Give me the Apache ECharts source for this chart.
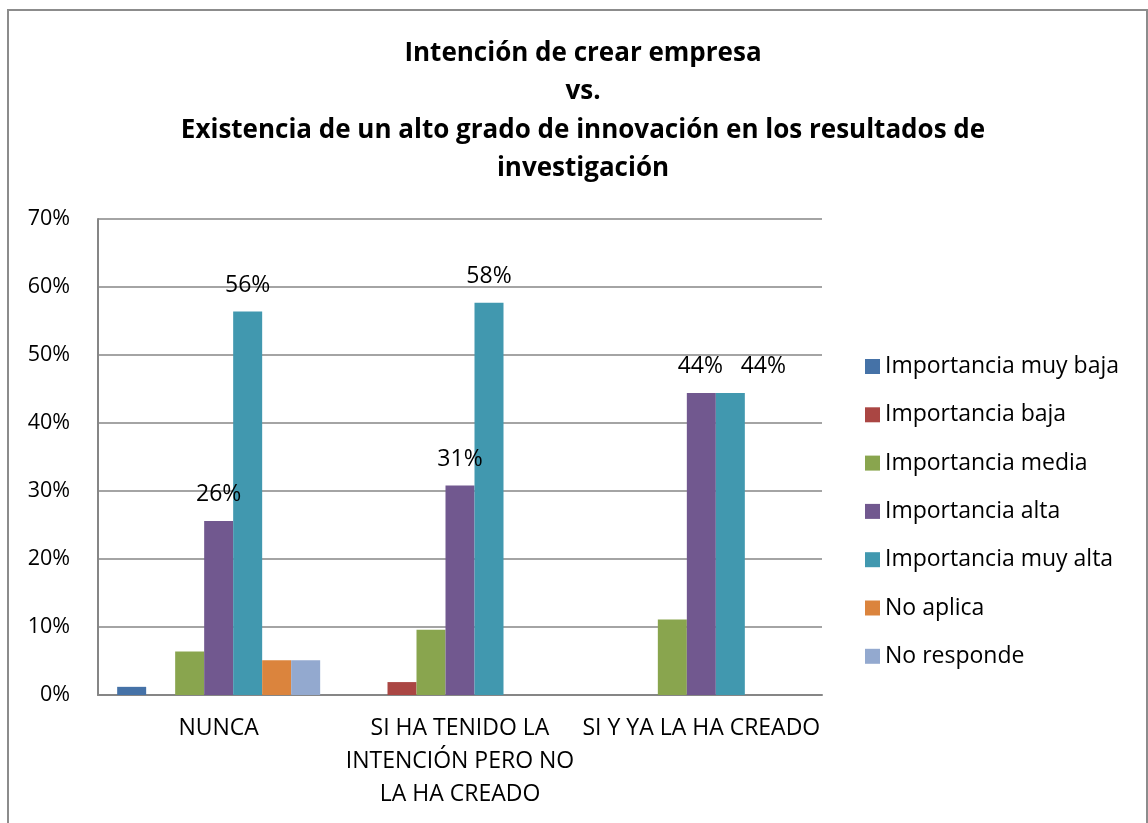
<!DOCTYPE html>
<html>
<head>
<meta charset="utf-8">
<script src="https://cdn.jsdelivr.net/npm/echarts@6/dist/echarts.min.js"></script>
<style>
  html, body { margin: 0; padding: 0; background: #fff; }
  #chart { width: 1148px; height: 823px; }
</style>
</head>
<body>
<div id="chart"></div>
<script>
// datos (en %)
var categorias = ["NUNCA", "SI HA TENIDO LA\nINTENCIÓN PERO NO\nLA HA CREADO", "SI Y YA LA HA CREADO"];
var series_nombres = ["Importancia muy baja", "Importancia baja", "Importancia media", "Importancia alta", "Importancia muy alta", "No aplica", "No responde"];
var muyBaja = [1.2, 0, 0];
var baja = [0, 1.9, 0];
var media = [6.4, 9.6, 11.1];
var alta = [25.6, 30.8, 44.4];
var muyAlta = [56.4, 57.7, 44.4];
var noAplica = [5.1, 0, 0];
var noResponde = [5.1, 0, 0];
var yTicks = [0, 10, 20, 30, 40, 50, 60, 70];

var datos = [muyBaja, baja, media, alta, muyAlta, noAplica, noResponde];
var colores = ["#4572A7", "#AA4643", "#89A54E", "#71588F", "#4198AF", "#DB843D", "#93A9CF"];
var conEtiqueta = [false, false, false, true, true, false, false];
var fuente = "'Open Sans', 'Noto Sans', sans-serif";

var chart = echarts.init(document.getElementById("chart"));

var series = [];
for (var i = 0; i < datos.length; i++) {
  var items = datos[i].map(function (v, j) {
    var it = { value: v };
    // en el ultimo grupo las dos etiquetas de 44% se separan como en Excel
    if (j === 2 && i === 3) it.label = { offset: [-1, 0] };
    if (j === 2 && i === 4) it.label = { offset: [33, 0] };
    return it;
  });
  series.push({
    name: series_nombres[i],
    type: "bar",
    data: items,
    barWidth: 29,
    barGap: "0%",
    itemStyle: { color: colores[i] },
    label: {
      show: conEtiqueta[i],
      position: "top",
      distance: 15,
      fontFamily: fuente,
      fontSize: 23,
      color: "#000",
      formatter: function (p) { return Math.round(p.value) + "%"; }
    }
  });
}

var option = {
  animation: false,
  textStyle: { fontFamily: fuente },
  title: {
    text: "Intención de crear empresa\nvs.\nExistencia de un alto grado de innovación en los resultados de\ninvestigación",
    left: 578,
    top: 29,
    textAlign: "center",
    textStyle: {
      fontFamily: fuente,
      fontSize: 26,
      fontWeight: "bold",
      color: "#000",
      lineHeight: 38.5
    }
  },
  legend: {
    orient: "vertical",
    left: 860,
    top: 350,
    itemWidth: 15,
    itemHeight: 15,
    itemGap: 25.3,
    icon: "rect",
    data: series_nombres,
    textStyle: { fontFamily: fuente, fontSize: 23, lineHeight: 23, color: "#000", padding: [0, 0, 0, 0] }
  },
  grid: { left: 98, right: 326, top: 219, bottom: 128 },
  xAxis: {
    type: "category",
    data: categorias,
    axisLine: { lineStyle: { color: "#868686", width: 2 } },
    axisTick: { show: false },
    axisLabel: {
      fontFamily: fuente,
      fontSize: 23,
      color: "#000",
      lineHeight: 33,
      margin: 17,
      interval: 0
    }
  },
  yAxis: {
    type: "value",
    min: yTicks[0],
    max: yTicks[yTicks.length - 1],
    interval: 10,
    axisLine: { show: true, lineStyle: { color: "#868686", width: 2 } },
    axisTick: { show: false },
    splitLine: { lineStyle: { color: "#868686", width: 1.5 } },
    axisLabel: {
      fontFamily: fuente,
      fontSize: 21.5,
      color: "#000",
      margin: 28,
      formatter: "{value}%"
    }
  },
  graphic: [{
    type: "rect",
    shape: { x: 8, y: 10, width: 1139, height: 830 },
    style: { fill: "none", stroke: "#8c8c8c", lineWidth: 2 },
    silent: true
  }],
  series: series
};

chart.setOption(option);
</script>
</body>
</html>
